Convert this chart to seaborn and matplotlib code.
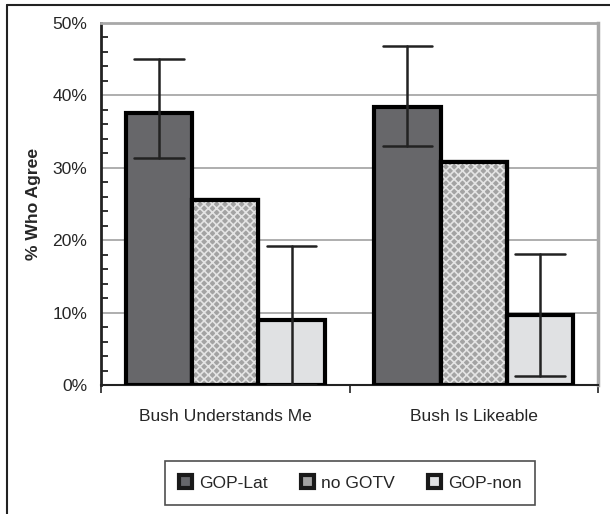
import numpy as np
import pandas as pd
import matplotlib.pyplot as plt
import seaborn as sns
from matplotlib.patches import Rectangle, Patch
from matplotlib.lines import Line2D
from matplotlib.ticker import MultipleLocator, FixedLocator, PercentFormatter

categories = ['Bush Understands Me', 'Bush Is Likeable']
groups = ['GOP-Lat', 'no GOTV', 'GOP-non']
gop_lat = [37.6, 38.4]
no_gotv = [25.5, 30.8]
gop_non = [9.0, 9.6]
gop_lat_err = [(31.3, 45.0), (33.0, 46.8)]
gop_non_err = [(0.0, 19.2), (1.2, 18.1)]
colors = ['#66676b', '#a3a3a3', '#e0e1e3']

df = pd.DataFrame({
    'category': categories * 3,
    'group': np.repeat(groups, 2),
    'value': gop_lat + no_gotv + gop_non,
})

sns.set_style('white')
plt.rcParams['font.family'] = ['Liberation Sans', 'DejaVu Sans']
plt.rcParams['hatch.linewidth'] = 1.2

fig = plt.figure(figsize=(6.10, 5.14), dpi=100)
ax = fig.add_axes([101 / 610, 1 - 385 / 514, 497 / 610, 362 / 514])

sns.barplot(data=df, x='category', y='value', hue='group', hue_order=groups,
            palette=colors, order=categories, width=0.8, errorbar=None,
            edgecolor='black', linewidth=3, ax=ax, legend=False, zorder=3)

# hatch pattern on the middle bars
for p in ax.containers[1]:
    ax.add_patch(Rectangle(p.get_xy(), p.get_width(), p.get_height(),
                           facecolor='none', edgecolor='#e4e4e4', hatch='xxxx',
                           linewidth=0, zorder=3.5))
    ax.add_patch(Rectangle(p.get_xy(), p.get_width(), p.get_height(),
                           facecolor='none', edgecolor='black', linewidth=3,
                           zorder=3.6))

# error bars
for cont, errs in [(ax.containers[0], gop_lat_err), (ax.containers[2], gop_non_err)]:
    for p, (lo, hi) in zip(cont, errs):
        xc = p.get_x() + p.get_width() / 2
        ax.plot([xc, xc], [lo, hi], color='#222222', lw=1.8, zorder=5)
        ax.plot([xc - 0.1, xc + 0.1], [hi, hi], color='#222222', lw=1.8, zorder=5)
        ax.plot([xc - 0.1, xc + 0.1], [lo, lo], color='#222222', lw=1.8, zorder=5)

ax.set_ylim(0, 50)
ax.set_xlim(-0.5, 1.5)
ax.yaxis.set_major_locator(MultipleLocator(10))
ax.yaxis.set_minor_locator(MultipleLocator(2))
ax.yaxis.set_major_formatter(PercentFormatter(decimals=0))
ax.yaxis.grid(True, color='#a8a8a8', lw=1.3, zorder=0)
ax.set_axisbelow(True)
ax.tick_params(axis='y', which='major', direction='inout', length=12, width=1.5,
               labelsize=12.6, color='#222222', pad=4)
ax.tick_params(axis='y', which='minor', direction='in', length=5, width=1.3,
               color='#222222', left=True)
ax.xaxis.set_minor_locator(FixedLocator([-0.5, 0.5, 1.5]))
ax.tick_params(axis='x', which='major', length=0, labelsize=12.6, pad=17)
ax.tick_params(axis='x', which='minor', direction='out', length=6, width=1.2,
               color='#222222', bottom=True)
ax.set_xlabel('')
ax.set_ylabel('% Who Agree', fontsize=12.6, fontweight='bold', labelpad=8)

for s in ['left', 'bottom']:
    ax.spines[s].set_color('#222222')
ax.spines['left'].set_linewidth(2)
ax.spines['bottom'].set_linewidth(1.5)
ax.spines['top'].set_color('#a8a8a8')
ax.spines['top'].set_linewidth(2)
ax.spines['right'].set_color('#a8a8a8')
ax.spines['right'].set_linewidth(2.5)

handles = [Patch(facecolor=c, edgecolor='#1a1a1a', linewidth=3) for c in colors]
leg = fig.legend(handles, groups, loc='center', bbox_to_anchor=(350 / 610, 1 - 483 / 514),
                 ncol=3, fontsize=12.6, frameon=True, fancybox=False,
                 edgecolor='#222222', handlelength=0.75, handleheight=0.75,
                 handletextpad=0.4, columnspacing=1.9, borderpad=0.8)
leg.get_frame().set_linewidth(1.2)

# outer frame (top and left only)
fig.add_artist(Line2D([7 / 610, 1], [1 - 5 / 514, 1 - 5 / 514], color='#222222', lw=1.5))
fig.add_artist(Line2D([7 / 610, 7 / 610], [0, 1 - 5 / 514], color='#222222', lw=1.5))

fig.savefig('out.png', dpi=100)
